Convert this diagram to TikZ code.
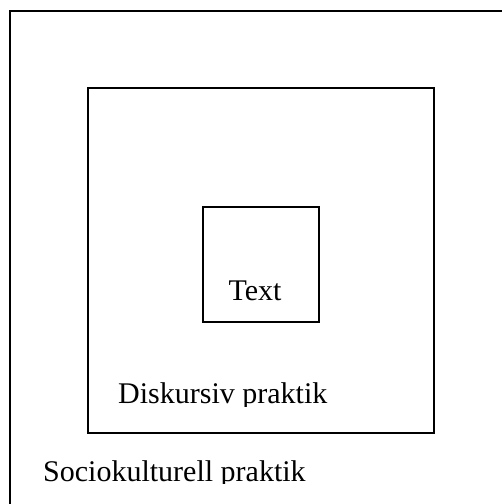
\documentclass[tikz,border=0pt]{standalone}
\usepackage{fontspec}
\setmainfont{Liberation Serif}
\usetikzlibrary{calc}

\tikzset{
    box/.style={line width=1.6pt},
    label/.style={font=\fontsize{30}{36}\selectfont, inner sep=0pt}
}

\begin{document}
\begin{tikzpicture}[x=1pt, y=-1pt]
    % Page frame, cuts off the outer box on the right and at the bottom
    \clip (0,0) rectangle (502,504);

    % Draw the three nested boxes
    \draw[box] (10,11) rectangle (520,520);
    \draw[box] (88,88) rectangle (434,433);
    \draw[box] (203,207) rectangle (319,322);

    % Label the boxes
    \node[label, anchor=base] (text) at (255,300) {Text};
    \begin{scope}
        \clip (88,350) rectangle (434,406);
        \node[label, anchor=base west] (diskursiv) at (118,403) {Diskursiv praktik};
    \end{scope}
    \begin{scope}
        \clip (10,440) rectangle (502,483);
        \node[label, anchor=base west] (socio) at (43,481) {Sociokulturell praktik};
    \end{scope}

\end{tikzpicture}
\end{document}
